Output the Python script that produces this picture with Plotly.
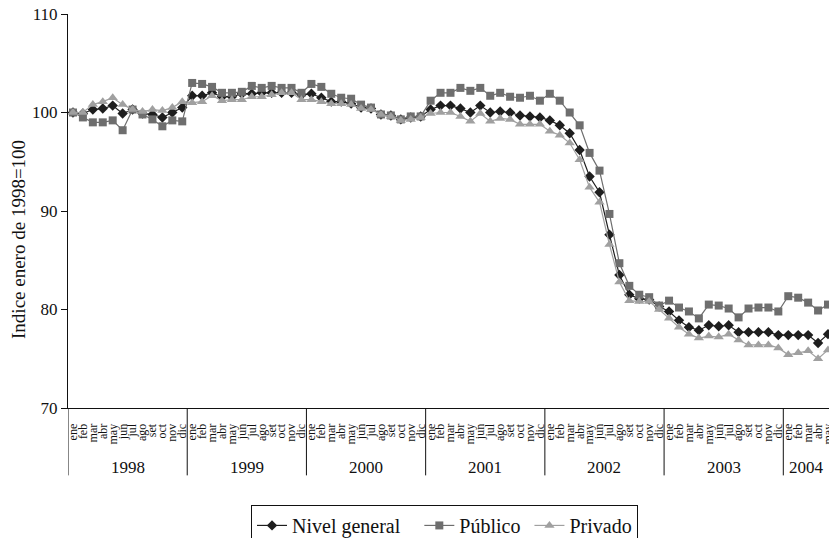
import plotly.graph_objects as go

# Monthly index, January 1998 = 100
years = ["1998", "1999", "2000", "2001", "2002", "2003", "2004"]
month_names = ["ene", "feb", "mar", "abr", "may", "jun", "jul", "ago", "set", "oct", "nov", "dic"]
months_per_year = [12, 12, 12, 12, 12, 12, 5]

nivel_general = [
    100.0, 99.9, 100.3, 100.4, 100.7, 99.9, 100.3, 99.9, 99.8, 99.5, 100.0, 100.5,
    101.7, 101.7, 102.0, 101.6, 101.6, 101.9, 101.9, 102.0, 102.0, 102.0, 102.0, 101.8,
    101.9, 101.5, 101.1, 101.1, 100.9, 100.5, 100.4, 99.8, 99.7, 99.3, 99.5, 99.6,
    100.3, 100.7, 100.7, 100.4, 100.0, 100.7, 100.0, 100.1, 100.0, 99.7, 99.6, 99.5,
    99.2, 98.7, 97.9, 96.2, 93.5, 91.9, 87.6, 83.5, 81.5, 81.1, 81.0, 80.3,
    79.8, 78.9, 78.2, 77.9, 78.4, 78.3, 78.4, 77.7, 77.7, 77.7, 77.7, 77.4,
    77.4, 77.4, 77.4, 76.6, 77.5,
]
publico = [
    100.0, 99.5, 99.0, 99.0, 99.2, 98.2, 100.3, 99.8, 99.3, 98.6, 99.2, 99.1,
    103.0, 102.9, 102.6, 102.0, 102.0, 102.1, 102.7, 102.5, 102.7, 102.5, 102.5, 102.0,
    102.9, 102.6, 101.9, 101.5, 101.4, 100.8, 100.5, 99.8, 99.7, 99.3, 99.6, 99.6,
    101.2, 102.0, 102.0, 102.5, 102.2, 102.5, 101.7, 102.0, 101.6, 101.5, 101.7, 101.2,
    101.9, 101.2, 100.0, 98.7, 95.9, 94.1, 89.7, 84.7, 82.4, 81.5, 81.25, 80.4,
    80.9, 80.2, 79.8, 79.1, 80.5, 80.4, 80.1, 79.2, 80.1, 80.2, 80.2, 79.8,
    81.35, 81.2, 80.7, 79.9, 80.5,
]
privado = [
    100.0, 100.0, 100.8, 101.1, 101.5, 100.8, 100.3, 100.1, 100.3, 100.2, 100.5, 101.1,
    101.0, 101.1, 101.7, 101.2, 101.3, 101.3, 101.6, 101.6, 101.8, 102.0, 102.0, 101.3,
    101.3, 101.1, 100.9, 100.9, 100.8, 100.4, 100.3, 99.8, 99.6, 99.2, 99.3, 99.5,
    99.9, 100.0, 100.0, 99.6, 99.1, 99.9, 99.1, 99.4, 99.3, 98.8, 98.8, 98.8,
    98.1, 97.7, 96.9, 95.2, 92.4, 90.9, 86.6, 82.8, 80.9, 80.8, 80.8, 80.0,
    79.1, 78.2, 77.5, 77.1, 77.3, 77.2, 77.5, 76.9, 76.4, 76.4, 76.4, 76.1,
    75.4, 75.6, 75.8, 75.0, 75.9,
]

tick_text = []
for n in months_per_year:
    tick_text += month_names[:n]
idx = list(range(len(tick_text)))

SERIF = "Liberation Serif, Times New Roman, serif"
X_MAX = 76.1

fig = go.Figure()
series = [
    ("Nivel general\u2002\u2009", nivel_general, "#1e1e1e", "diamond", 8),
    ("Público\u2009", publico, "#6e6e6e", "square", 8),
    ("Privado", privado, "#a0a0a0", "triangle-up", 9),
]
for name, vals, color, symbol, size in series:
    fig.add_trace(go.Scatter(
        x=idx, y=vals, name=name, mode="lines+markers",
        line=dict(color=color, width=1.2),
        marker=dict(symbol=symbol, size=size, color=color, line=dict(width=0)),
    ))

# Year separators and year labels below the month labels
shapes = []
annotations = []
start = 0
bounds = [-0.5]
for y, n in zip(years, months_per_year):
    end = start + n
    bounds.append(end - 0.5)
    center = (start - 0.5 + min(end - 0.5, X_MAX)) / 2
    annotations.append(dict(
        x=center, y=-0.152, xref="x", yref="paper", text=y, showarrow=False,
        font=dict(family=SERIF, size=17, color="#111"), yanchor="middle",
    ))
    start = end
for b in bounds:
    if b <= X_MAX:
        shapes.append(dict(
            type="line", xref="x", yref="paper", x0=b, x1=b, y0=0, y1=-0.171,
            line=dict(color="#111", width=1),
        ))

# Vertical axis title, centred on the axis plus the category band
annotations.append(dict(
    x=-0.0644, y=0.429, xref="paper", yref="paper", text="Indice enero de 1998=100",
    textangle=-90, showarrow=False, xanchor="center", yanchor="middle",
    font=dict(family=SERIF, size=19, color="#111"),
))

fig.update_layout(
    width=829, height=538,
    margin=dict(l=68, r=0, t=14, b=130, autoexpand=False),
    paper_bgcolor="white", plot_bgcolor="white",
    font=dict(family=SERIF, color="#111"),
    shapes=shapes, annotations=annotations,
    legend=dict(
        orientation="h", x=0.2405, y=-0.246, xanchor="left", yanchor="top",
        bordercolor="#111", borderwidth=1, font=dict(family=SERIF, size=20),
        itemwidth=30, tracegroupgap=0,
    ),
    xaxis=dict(
        range=[-0.5, X_MAX], tickmode="array", tickvals=idx, ticktext=tick_text,
        tickangle=-90, tickfont=dict(family=SERIF, size=12, color="#111"),
        ticklabelstandoff=10, ticklabeloverflow="allow",
        showline=True, linecolor="#111", linewidth=1, ticks="", showgrid=False,
        zeroline=False, fixedrange=True,
    ),
    yaxis=dict(
        range=[70, 110], dtick=10, showline=True, linecolor="#111", linewidth=1,
        ticks="outside", ticklen=6, tickcolor="#111", showgrid=False, zeroline=False,
        tickfont=dict(family=SERIF, size=17, color="#111"),
    ),
)

fig.write_html("out.html")
